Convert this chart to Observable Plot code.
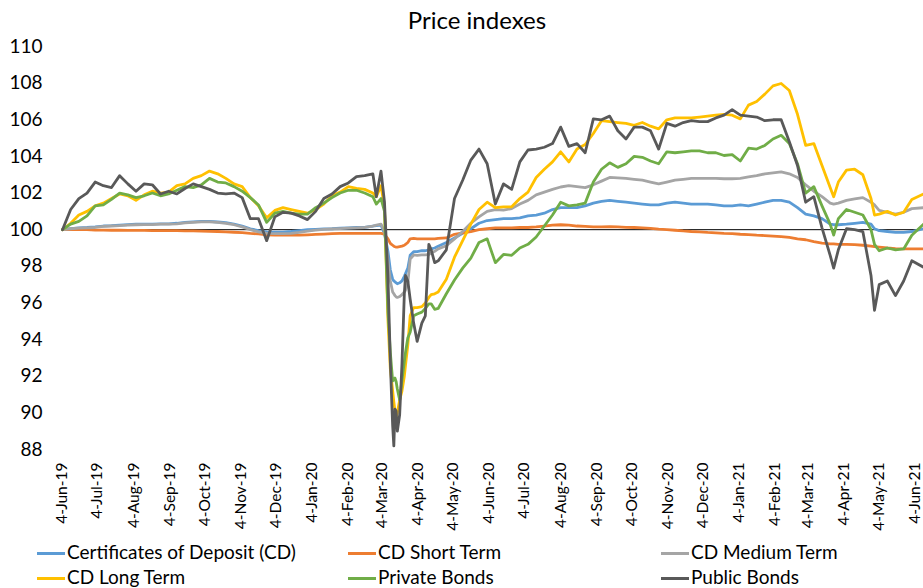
<!DOCTYPE html>
<html>
<head>
<meta charset="utf-8">
<script src="https://cdn.jsdelivr.net/npm/d3@7"></script>
<script src="https://cdn.jsdelivr.net/npm/@observablehq/plot@0.6"></script>
<style>
  html, body { margin: 0; padding: 0; background: #fff; }
  #wrap { position: relative; width: 923px; height: 588px; overflow: hidden; font-family: Lato, "Open Sans", sans-serif; color: #000; }
  #title { position: absolute; left: 0; width: 954px; top: 7px; text-align: center; font-size: 24px; line-height: 26px; }
  #chart { position: absolute; left: 0; top: 0; }
  #chart svg { display: block; }
  .leg { position: absolute; font-size: 19px; line-height: 22px; white-space: nowrap; }
  .leg .sw { display: inline-block; width: 28px; height: 3px; vertical-align: middle; margin-right: 2px; position: relative; top: -1px; }
</style>
</head>
<body>
<div id="wrap">
  <div id="chart"></div>
  <div id="title">Price indexes</div>
  <div id="legend"></div>
</div>
<script>
const dates = [
"2019-06-04","2019-06-11","2019-06-18","2019-06-25","2019-07-02","2019-07-09","2019-07-16","2019-07-23","2019-07-30","2019-08-06",
"2019-08-13","2019-08-20","2019-08-27","2019-09-03","2019-09-10","2019-09-17","2019-09-24","2019-10-01","2019-10-08","2019-10-15",
"2019-10-22","2019-10-29","2019-11-05","2019-11-12","2019-11-19","2019-11-26","2019-12-03","2019-12-10","2019-12-17","2019-12-24",
"2019-12-31","2020-01-07","2020-01-14","2020-01-21","2020-01-28","2020-02-04","2020-02-11","2020-02-18","2020-02-25","2020-02-28",
"2020-03-03","2020-03-06","2020-03-09","2020-03-11","2020-03-12","2020-03-13","2020-03-14","2020-03-15","2020-03-16","2020-03-17",
"2020-03-19","2020-03-21","2020-03-23","2020-03-24","2020-03-26","2020-03-28","2020-03-31","2020-04-03","2020-04-07","2020-04-10",
"2020-04-13","2020-04-15","2020-04-18","2020-04-21","2020-04-28","2020-05-05","2020-05-12","2020-05-19","2020-05-26","2020-06-02",
"2020-06-09","2020-06-16","2020-06-23","2020-06-30","2020-07-07","2020-07-14","2020-07-21","2020-07-28","2020-08-04","2020-08-11",
"2020-08-18","2020-08-25","2020-09-01","2020-09-08","2020-09-15","2020-09-22","2020-09-29","2020-10-06","2020-10-13","2020-10-20",
"2020-10-27","2020-11-03","2020-11-10","2020-11-17","2020-11-24","2020-12-01","2020-12-08","2020-12-15","2020-12-22","2020-12-29",
"2021-01-05","2021-01-12","2021-01-19","2021-01-26","2021-02-02","2021-02-09","2021-02-16","2021-02-23","2021-03-02","2021-03-09",
"2021-03-16","2021-03-23","2021-03-26","2021-03-30","2021-04-06","2021-04-13","2021-04-20","2021-04-27","2021-04-30","2021-05-04",
"2021-05-11","2021-05-18","2021-05-25","2021-06-01","2021-06-11"
];

const cd = [
100,100.05,100.1,100.12,100.15,100.2,100.22,100.25,100.28,100.3,
100.3,100.3,100.32,100.32,100.35,100.4,100.43,100.45,100.45,100.42,
100.38,100.3,100.2,100.05,99.95,99.88,99.87,99.87,99.9,99.95,
100.0,100.02,100.04,100.05,100.08,100.1,100.12,100.13,100.2,100.22,
100.25,99.8,98.8,97.8,97.55,97.3,97.2,97.15,97.1,97.05,
97.1,97.2,97.45,97.6,97.9,98.6,98.8,98.8,98.85,98.85,
98.9,98.95,99.0,99.1,99.3,99.55,99.8,100.05,100.35,100.5,
100.55,100.6,100.6,100.65,100.75,100.8,100.9,101.1,101.2,101.2,
101.2,101.3,101.45,101.55,101.6,101.55,101.5,101.45,101.4,101.35,
101.35,101.45,101.5,101.45,101.4,101.4,101.4,101.35,101.3,101.3,
101.35,101.3,101.4,101.5,101.6,101.6,101.5,101.2,100.85,100.75,
100.6,100.3,100.27,100.27,100.3,100.35,100.4,100.3,100.05,99.95,
99.9,99.85,99.85,99.9,100.05
];

const cdShort = [
100,100,100,100,99.98,99.98,99.97,99.97,99.96,99.96,
99.96,99.95,99.95,99.95,99.95,99.94,99.93,99.92,99.91,99.9,
99.88,99.86,99.84,99.8,99.77,99.72,99.7,99.7,99.7,99.7,
99.72,99.74,99.76,99.78,99.8,99.8,99.8,99.8,99.8,99.8,
99.8,99.75,99.5,99.25,99.2,99.15,99.1,99.07,99.05,99.05,
99.08,99.1,99.15,99.2,99.3,99.5,99.52,99.5,99.5,99.5,
99.5,99.5,99.5,99.52,99.55,99.75,99.83,99.9,100.0,100.05,
100.1,100.1,100.1,100.12,100.12,100.15,100.2,100.25,100.27,100.25,
100.2,100.18,100.15,100.15,100.17,100.15,100.13,100.12,100.1,100.07,
100.03,100.0,99.97,99.93,99.9,99.88,99.85,99.83,99.8,99.78,
99.75,99.73,99.7,99.68,99.65,99.62,99.58,99.5,99.45,99.35,
99.27,99.23,99.22,99.2,99.2,99.18,99.15,99.1,99.08,99.05,
99.0,98.97,98.95,98.95,98.95
];

const cdMedium = [
100,100.05,100.08,100.1,100.12,100.18,100.2,100.22,100.25,100.27,
100.28,100.28,100.3,100.3,100.32,100.37,100.4,100.43,100.43,100.4,
100.35,100.27,100.15,100.0,99.88,99.8,99.78,99.78,99.8,99.85,
99.92,99.98,100.02,100.04,100.06,100.08,100.1,100.12,100.2,100.25,
100.3,99.9,98.3,97.2,96.9,96.6,96.5,96.4,96.33,96.3,
96.35,96.45,96.6,96.7,97.1,98.4,98.62,98.6,98.62,98.63,
98.65,98.72,98.82,98.95,99.12,99.5,99.9,100.35,100.7,101.0,
101.1,101.07,101.15,101.4,101.6,101.9,102.05,102.2,102.33,102.4,
102.35,102.3,102.45,102.65,102.85,102.83,102.8,102.75,102.7,102.6,
102.5,102.6,102.7,102.75,102.8,102.8,102.8,102.8,102.78,102.78,
102.8,102.88,102.95,103.05,103.1,103.15,103.05,102.85,102.45,102.1,
101.8,101.45,101.4,101.45,101.6,101.68,101.75,101.5,101.35,101.05,
100.95,100.85,100.95,101.15,101.2
];

const cdLong = [
100,100.35,100.8,101.0,101.3,101.45,101.7,101.95,101.85,101.6,
101.9,102.1,102.0,102.05,102.4,102.5,102.8,102.95,103.2,103.05,
102.8,102.5,102.35,101.75,101.3,100.65,101.05,101.2,101.1,101.0,
100.9,101.1,101.4,101.85,102.05,102.35,102.25,102.2,102.0,101.8,
102.4,101.2,95.0,92.4,91.8,91.2,90.6,90.1,89.75,90.0,
90.7,91.2,92.0,92.6,93.7,95.3,95.75,95.75,95.8,96.0,
96.3,96.45,96.5,96.6,97.3,98.5,99.4,100.3,101.1,101.5,
101.2,101.25,101.25,101.7,102.05,102.85,103.3,103.7,104.25,103.7,
104.4,104.65,105.25,105.95,105.9,105.85,105.8,105.7,105.85,105.65,
105.5,106.0,106.1,106.1,106.1,106.15,106.2,106.25,106.3,106.25,
106.05,106.8,107.0,107.4,107.85,107.98,107.6,106.3,104.6,104.7,
103.5,102.3,101.8,102.6,103.25,103.3,103.0,101.7,100.8,100.85,
101.0,100.8,100.95,101.65,101.95
];

const privateBonds = [
100,100.3,100.45,100.75,101.3,101.35,101.65,102.0,101.9,101.75,
101.85,102.0,101.85,101.95,102.15,102.35,102.3,102.45,102.8,102.6,
102.55,102.35,102.1,101.75,101.35,100.4,100.9,101.0,100.9,100.85,
100.85,101.2,101.45,101.75,102.0,102.15,102.15,102.0,101.8,101.4,
101.7,101.0,95.5,93.3,92.5,91.75,91.8,91.9,91.7,91.3,
90.7,91.8,92.8,93.3,94.1,94.4,95.3,95.4,95.5,95.7,
95.95,95.95,95.65,95.7,96.5,97.25,97.9,98.45,99.3,99.5,
98.2,98.65,98.6,99.0,99.2,99.6,100.2,100.8,101.5,101.3,
101.35,101.45,102.6,103.3,103.65,103.4,103.6,104.0,103.95,103.75,
103.6,104.25,104.2,104.25,104.3,104.3,104.2,104.2,104.05,104.1,
103.75,104.45,104.4,104.6,104.95,105.15,104.7,103.6,102.0,102.35,
101.3,100.3,99.7,100.6,101.1,100.95,100.8,100.0,99.2,98.85,
99.0,98.9,98.95,99.7,100.3
];

const publicBonds = [
100,101.1,101.7,102.0,102.6,102.4,102.3,102.95,102.5,102.1,
102.5,102.45,101.95,102.1,101.95,102.25,102.5,102.35,102.2,102.0,
101.95,102.0,101.75,100.6,100.6,99.4,100.7,100.95,100.9,100.75,
100.55,101.0,101.7,101.95,102.35,102.55,102.9,102.95,103.05,101.8,
103.2,101.5,97.3,92.8,91.0,89.3,88.2,90.2,90.1,89.0,
89.9,92.7,96.5,97.5,97.2,96.2,94.9,93.9,94.9,95.3,
99.2,98.9,98.2,98.3,98.9,101.7,102.7,103.8,104.4,103.6,
101.4,102.5,102.2,103.7,104.35,104.4,104.5,104.7,105.6,104.55,
104.7,104.2,106.05,106.0,106.2,105.4,104.95,105.6,105.6,105.4,
104.4,105.8,105.65,105.85,105.95,105.9,105.9,106.1,106.25,106.55,
106.25,106.2,106.15,105.95,106.0,106.0,104.8,103.5,101.5,101.8,
100.1,98.6,97.9,98.9,100.05,100.0,99.9,97.5,95.6,97.0,
97.2,96.4,97.2,98.3,97.95
];

const seriesNames = ["Certificates of Deposit (CD)", "CD Short Term", "CD Medium Term", "CD Long Term", "Private Bonds", "Public Bonds"];
const seriesColors = ["#5B9BD5", "#ED7D31", "#A5A5A5", "#FFC000", "#70AD47", "#595959"];
const seriesValues = [cd, cdShort, cdMedium, cdLong, privateBonds, publicBonds];

const yTicks = [88, 90, 92, 94, 96, 98, 100, 102, 104, 106, 108, 110];
const xTickDates = [
"2019-06-04","2019-07-04","2019-08-04","2019-09-04","2019-10-04","2019-11-04","2019-12-04",
"2020-01-04","2020-02-04","2020-03-04","2020-04-04","2020-05-04","2020-06-04","2020-07-04",
"2020-08-04","2020-09-04","2020-10-04","2020-11-04","2020-12-04","2021-01-04","2021-02-04",
"2021-03-04","2021-04-04","2021-05-04","2021-06-04"
];
const xDomain = ["2019-06-04", "2021-06-11"];
const baseline = 100;

const parse = d3.utcParse("%Y-%m-%d");

const lineMarks = seriesNames.map((name, i) => {
  const rows = dates.map((d, j) => ({date: parse(d), value: seriesValues[i][j], series: name}));
  return Plot.line(rows, {x: "date", y: "value", stroke: seriesColors[i], strokeWidth: 2.8, strokeLinejoin: "round", strokeLinecap: "round"});
});

const chart = Plot.plot({
  width: 923,
  height: 540,
  marginLeft: 62,
  marginRight: 0,
  marginTop: 46,
  marginBottom: 91,
  style: {fontFamily: "Lato, 'Open Sans', sans-serif", background: "transparent", overflow: "visible", color: "#000"},
  x: {type: "utc", domain: xDomain.map(parse)},
  y: {domain: [88, 110]},
  marks: [
    Plot.ruleY([baseline], {stroke: "#000", strokeWidth: 1}),
    ...lineMarks,
    Plot.axisY({ticks: yTicks, tickSize: 0, tickPadding: 20, fontSize: 19, label: null}),
    Plot.axisX({ticks: xTickDates.map(parse), tickFormat: d3.utcFormat("%-d-%b-%y"), tickRotate: -90, tickSize: 0, tickPadding: 13, fontSize: 15.5, label: null})
  ]
});
document.getElementById("chart").appendChild(chart);

// legend
const legendPos = [
  {left: 37, top: 541}, {left: 348, top: 541}, {left: 661, top: 541},
  {left: 37, top: 566}, {left: 348, top: 566}, {left: 661, top: 566}
];
const legend = document.getElementById("legend");
seriesNames.forEach((name, i) => {
  const item = document.createElement("div");
  item.className = "leg";
  item.style.left = legendPos[i].left + "px";
  item.style.top = legendPos[i].top + "px";
  const sw = document.createElement("span");
  sw.className = "sw";
  sw.style.background = seriesColors[i];
  const tx = document.createElement("span");
  tx.textContent = name;
  item.appendChild(sw);
  item.appendChild(tx);
  legend.appendChild(item);
});
</script>
</body>
</html>
